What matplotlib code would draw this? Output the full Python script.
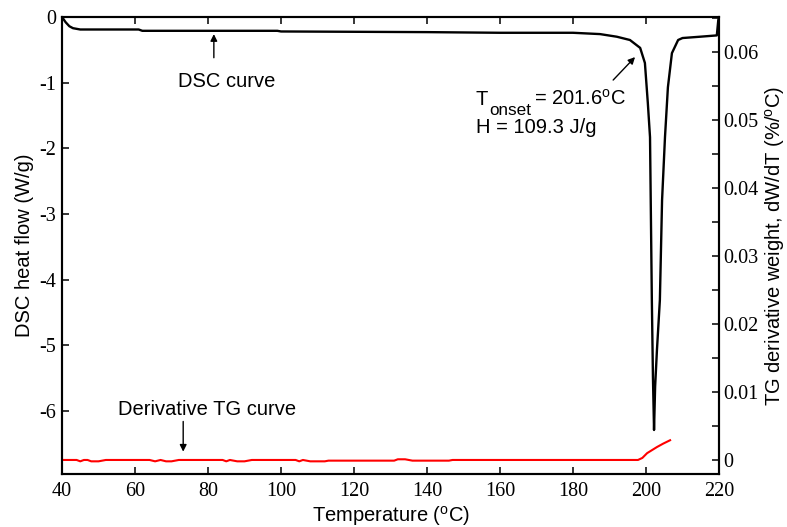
import matplotlib.pyplot as plt
from matplotlib.ticker import MultipleLocator

plt.rcParams['font.family'] = 'Liberation Sans'
plt.rcParams['mathtext.fontset'] = 'custom'
plt.rcParams['mathtext.rm'] = 'Liberation Sans'
plt.rcParams['mathtext.it'] = 'Liberation Sans:italic'

# DSC heat flow (W/g) vs temperature
dsc_temp = [40, 41, 42, 43, 45, 50, 61, 62, 99, 100, 140, 160, 180, 187.4, 192,
            195.6, 198.4, 199.7, 200.5, 201.1, 201.6, 201.9, 202.2, 202.5, 203.0,
            203.8, 204.4, 205.2, 206.0, 207.1, 208.8, 210, 214.8, 219.4, 219.8, 220]
dsc_flow = [0, -0.08, -0.14, -0.17, -0.19, -0.19, -0.19, -0.21, -0.21, -0.22,
            -0.23, -0.24, -0.24, -0.26, -0.30, -0.35, -0.47, -0.70, -1.31, -1.83,
            -4.31, -5.48, -6.29, -5.63, -5.07, -4.31, -2.79, -1.83, -1.07, -0.55,
            -0.35, -0.32, -0.30, -0.28, -0.05, 0]

# derivative TG (%/oC) vs temperature
tg_temp = [40, 44, 45, 46, 47, 48, 50, 52, 64, 65.5, 67, 68.5, 70, 72, 84, 85,
           86, 88, 90, 92, 104, 105, 106, 108, 110, 112, 113, 131, 132, 134, 136,
           146, 147, 197.8, 199, 200.3, 201.5, 203, 204.7, 206.6]
tg_deriv = [0, 0, -0.0002, 0, 0, -0.0002, -0.0002, 0, 0, -0.0002, 0, -0.0002,
            -0.0002, 0, 0, -0.0002, 0, -0.0002, -0.0002, 0, 0, -0.0002, 0,
            -0.0002, -0.0002, -0.0002, -0.0001, -0.0001, 0.0001, 0.0001, -0.0001,
            -0.0001, 0.0, 0.0, 0.0003, 0.0010, 0.0014, 0.0019, 0.0024, 0.0029]

fs = 14.5
tick_font = {'family': 'Liberation Serif', 'size': fs}

fig = plt.figure(figsize=(7.87, 5.27), dpi=100)
ax = fig.add_axes([0.0788, 0.1006, 0.8348, 0.8671])
ax2 = ax.twinx()

ax.plot(dsc_temp, dsc_flow, color='black', lw=1.7)
ax2.plot(tg_temp, tg_deriv, color='red', lw=1.5)

ax.set_xlim(40, 220)
ax.set_ylim(-6.96, 0)
ax2.set_ylim(-0.00206, 0.0651)

ax.xaxis.set_major_locator(MultipleLocator(20))
ax.yaxis.set_major_locator(MultipleLocator(1))
ax2.yaxis.set_major_locator(MultipleLocator(0.01))
ax2.yaxis.set_minor_locator(MultipleLocator(0.005))

ax.tick_params(axis='x', direction='in', top=True, length=5, width=1.1, pad=6)
ax.tick_params(axis='y', direction='in', length=5, width=1.1, pad=4)
ax2.tick_params(axis='y', which='both', direction='in', length=5, width=1.1, pad=3)

ax.set_xticks(range(40, 221, 20))
ax.set_xticklabels([str(t) for t in range(40, 221, 20)], fontdict=tick_font)
ax.set_yticks(range(-6, 1))
ax.set_yticklabels([str(v) for v in range(-6, 1)], fontdict=tick_font)
r_ticks = [0, 0.01, 0.02, 0.03, 0.04, 0.05, 0.06]
ax2.set_yticks(r_ticks)
ax2.set_yticklabels(['0', '0.01', '0.02', '0.03', '0.04', '0.05', '0.06'],
                    fontdict=tick_font)

for a in (ax, ax2):
    for s in a.spines.values():
        s.set_linewidth(1.5)

ax.set_xlabel('Temperature ($^\\mathrm{o}$C)', fontsize=fs, labelpad=2)
ax.set_ylabel('DSC heat flow (W/g)', fontsize=fs, labelpad=4)
ax2.set_ylabel('TG derivative weight, dW/dT (%/$^\\mathrm{o}$C)', fontsize=fs,
               labelpad=3)

arrow = dict(arrowstyle='-|>', color='black', lw=1, mutation_scale=10,
             shrinkA=0, shrinkB=0)

ax.annotate('', xy=(81.6, -0.26), xytext=(81.6, -0.62), arrowprops=arrow)
ax.text(71.8, -1.07, 'DSC curve', fontsize=fs, va='baseline')

ax.annotate('', xy=(197.0, -0.61), xytext=(191.0, -0.96), arrowprops=arrow)
ax.text(153.4, -1.34, 'T', fontsize=fs, va='baseline')
ax.text(157.0, -1.49, 'onset', fontsize=fs * 0.85, va='baseline')
ax.text(169.2, -1.34, '= 201.6$^\\mathrm{o}$C', fontsize=fs, va='baseline')
ax.text(153.4, -1.77, 'H = 109.3 J/g', fontsize=fs, va='baseline')

ax.annotate('', xy=(73.2, -6.62), xytext=(73.2, -6.16), arrowprops=arrow)
ax.text(55.3, -6.06, 'Derivative TG curve', fontsize=fs, va='baseline')

plt.savefig('out.png', dpi=100)
